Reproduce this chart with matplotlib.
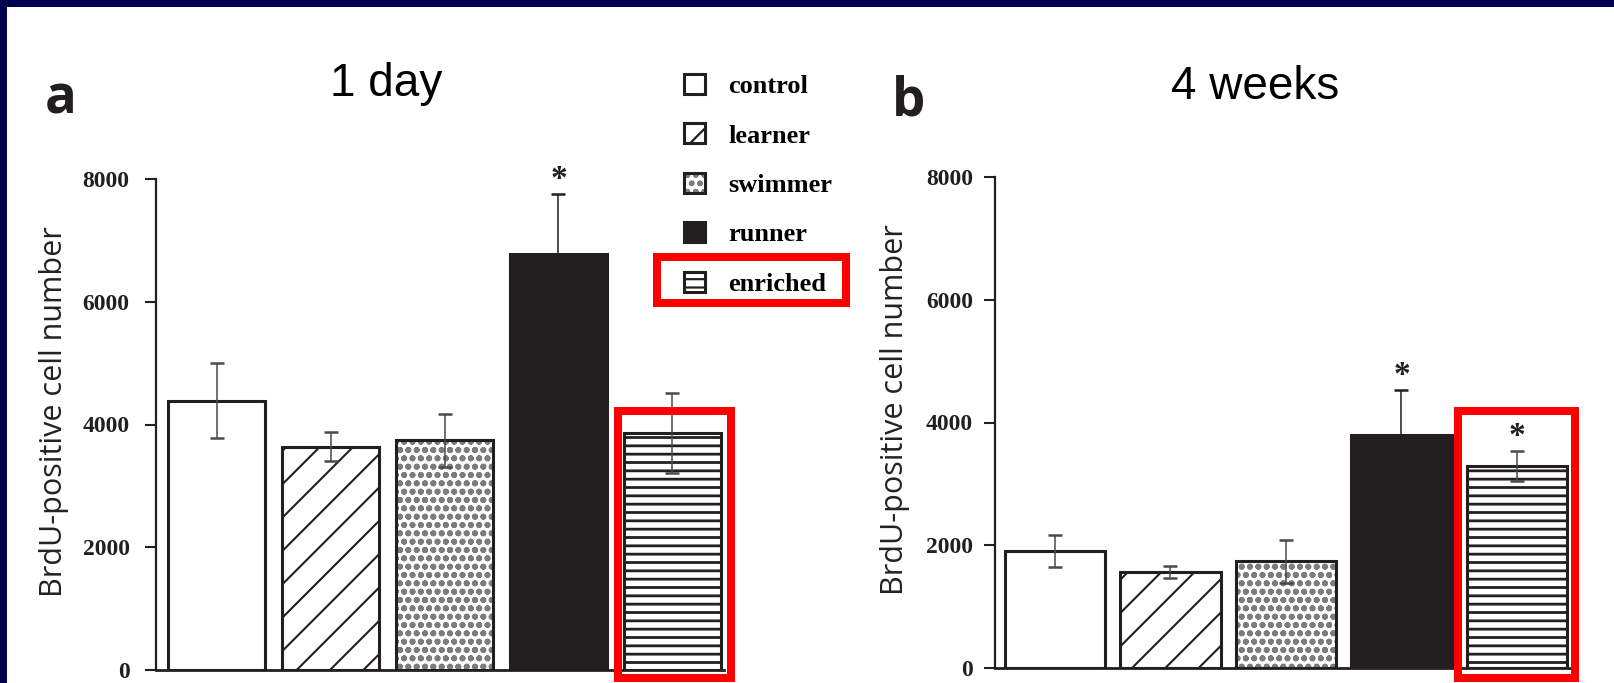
import matplotlib
matplotlib.use("Agg")
import matplotlib.pyplot as plt
from matplotlib.patches import Rectangle
import numpy as np

# ---- data -------------------------------------------------------------
groups = ["control", "learner", "swimmer", "runner", "enriched"]
day1_mean = [4390, 3640, 3740, 6770, 3860]
day1_err = [610, 230, 430, 990, 650]
day1_sig = [False, False, False, True, False]
week4_mean = [1910, 1560, 1740, 3800, 3290]
week4_err = [260, 95, 350, 730, 250]
week4_sig = [False, False, False, True, True]
y_ticks = [0, 2000, 4000, 6000, 8000]
panel_titles = ["1 day", "4 weeks"]
panel_letters = ["a", "b"]
y_label = "BrdU-positive cell number"

# ---- styles -----------------------------------------------------------
INK = "#231f20"
NAVY = "#000050"
RED = "#ff0000"
plt.rcParams["hatch.linewidth"] = 1.6

styles = {
    "control":  dict(face="white", hatch=None, hcol=INK, hlw=1.0),
    "learner":  dict(face="white", hatch="/", hcol=INK, hlw=1.5),
    "swimmer":  dict(face="white", hatch="oo", hcol="#7c7c7c", hlw=1.9),
    "runner":   dict(face=INK, hatch=None, hcol=INK, hlw=1.0),
    "enriched": dict(face="white", hatch="--", hcol=INK, hlw=2.0),
}

W, H = 1615, 683
fig = plt.figure(figsize=(W / 100, H / 100), dpi=100)
fig.patch.set_facecolor("white")


def fig_box(x0, y0, x1, y1):
    """Rectangle in figure fractions from pixel edges (top-left origin)."""
    return [x0 / W, 1 - y1 / H, (x1 - x0) / W, (y1 - y0) / H]


ax_a = fig.add_axes(fig_box(156, 179, 724, 670))
ax_b = fig.add_axes(fig_box(995, 177, 1570, 668))


def draw_panel(ax, means, errs, sig, width, xlim, tick_pad, label_x):
    x = np.arange(len(groups))
    handles = []
    for i, g in enumerate(groups):
        st = styles[g]
        fill = ax.bar(x[i], means[i], width, color=st["face"],
                      edgecolor=st["hcol"], linewidth=0,
                      hatch=st["hatch"], zorder=2)[0]
        if hasattr(fill, "set_hatch_linewidth"):
            fill.set_hatch_linewidth(st["hlw"])
        edge = ax.bar(x[i], means[i], width, facecolor="none",
                      edgecolor=INK, linewidth=2.2, zorder=3)[0]
        handles.append((fill, edge))
        # error bar: dark on the solid bar, grey elsewhere
        ecol = INK if st["face"] == INK else "#4a4a4a"
        ax.errorbar(x[i], means[i], yerr=errs[i], fmt="none", ecolor=ecol,
                    elinewidth=1.1, capsize=5, capthick=1.8, zorder=4)
        if sig[i]:
            ax.text(x[i], means[i] + errs[i] + 230, "*", ha="center",
                    va="center", fontsize=24, fontweight="bold",
                    family="Liberation Serif", color=INK)

    ax.set_xlim(*xlim)
    ax.set_ylim(0, 8000)
    ax.set_yticks(y_ticks)
    ax.set_yticklabels([str(v) for v in y_ticks], family="Liberation Serif",
                       fontweight="bold", fontsize=17, color=INK)
    ax.set_xticks([])
    ax.tick_params(axis="y", direction="out", length=8, width=1.5,
                   pad=tick_pad, colors=INK)
    for s in ("top", "right"):
        ax.spines[s].set_visible(False)
    ax.spines["left"].set_linewidth(1.6)
    ax.spines["bottom"].set_linewidth(2.0)
    ax.spines["left"].set_color(INK)
    ax.spines["bottom"].set_color(INK)
    ax.set_ylabel(y_label, fontsize=22, family="Open Sans", va="center",
                  color="#222222")
    ax.yaxis.set_label_coords(label_x, 0.527)
    ax.set_facecolor("none")
    return handles


handles = draw_panel(ax_a, day1_mean, day1_err, day1_sig, 0.85,
                     (-0.531, 4.452), 11, -0.180)
draw_panel(ax_b, week4_mean, week4_err, week4_sig, 0.866,
           (-0.5195, 4.459), 8, -0.174)

# legend for both panels
ax_a.legend(handles, groups, loc="upper left",
            bbox_to_anchor=(684 / W, 1 - 74 / H),
            bbox_transform=fig.transFigure, frameon=False,
            prop=dict(family="Liberation Serif", weight="bold", size=19),
            handlelength=0.78, handleheight=0.78, handletextpad=0.9,
            labelspacing=0.96, borderpad=0, borderaxespad=0)

# panel titles and letters
fig.text(330 / W, 1 - 96 / H, panel_titles[0], fontsize=33,
         family="Liberation Sans", ha="left", va="baseline")
fig.text(1171 / W, 1 - 99 / H, panel_titles[1], fontsize=33,
         family="Liberation Sans", ha="left", va="baseline")
fig.text(45 / W, 1 - 113 / H, panel_letters[0], fontsize=38,
         fontweight="bold", family="Open Sans", va="baseline", color=INK)
fig.text(892 / W, 1 - 115 / H, panel_letters[1], fontsize=38,
         fontweight="bold", family="Open Sans", va="baseline", color=INK)

# red highlight frames around the enriched group
for (x0, y0, x1, y1) in [(614, 407, 735, 682), (1454, 407, 1579, 682),
                         (653, 253, 850, 307)]:
    b = fig_box(x0 + 4, y0 + 4, x1 - 4, y1 - 4)
    fig.add_artist(Rectangle((b[0], b[1]), b[2], b[3],
                             transform=fig.transFigure, fill=False,
                             edgecolor=RED, linewidth=8 * 0.72, zorder=10))

# slide frame strips
fig.add_artist(Rectangle((0, 1 - 7 / H), 1, 7 / H, transform=fig.transFigure,
                         facecolor=NAVY, edgecolor="none", zorder=11))
fig.add_artist(Rectangle((0, 0), 7 / W, 1, transform=fig.transFigure,
                         facecolor=NAVY, edgecolor="none", zorder=11))

fig.savefig("out.png", dpi=100, facecolor="white")
